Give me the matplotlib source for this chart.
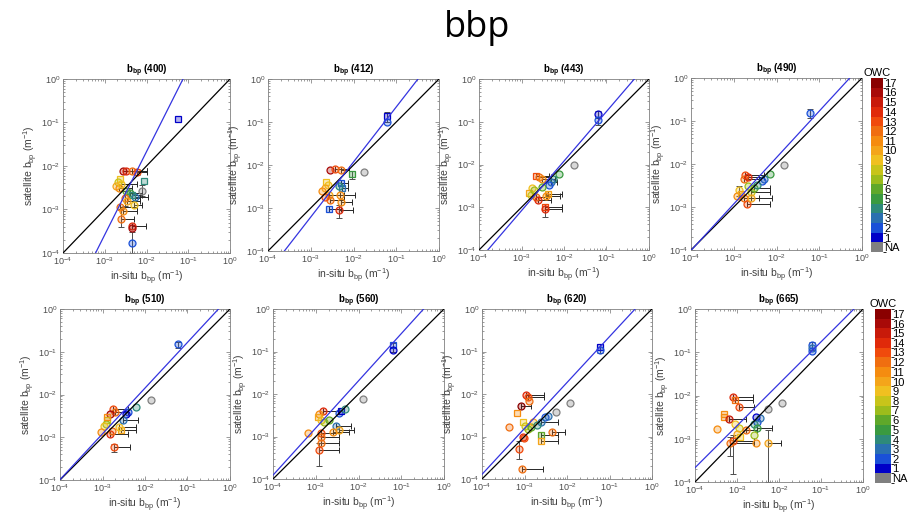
import numpy as np
import matplotlib
matplotlib.use('Agg')
import matplotlib.pyplot as plt
from matplotlib.colors import ListedColormap, BoundaryNorm, to_rgba
from matplotlib.cm import ScalarMappable

plt.rcParams['font.family'] = ['Liberation Sans', 'DejaVu Sans']
plt.rcParams['mathtext.fontset'] = 'custom'
plt.rcParams['mathtext.rm'] = 'Liberation Sans'
plt.rcParams['mathtext.bf'] = 'Liberation Sans:bold'
plt.rcParams['mathtext.default'] = 'regular'

# --- donnees ---
bands = [400, 412, 443, 490, 510, 560, 620, 665]
# droite de regression (log10 y = pente * log10 x + ordonnee)
fit_slope = [1.91, 1.28, 1.16, 1.08, 1.07, 1.11, 1.08, 0.97]
fit_icpt = [2.15, 0.63, 0.40, 0.31, 0.29, 0.53, 0.43, 0.21]

owc_labels = ['NA'] + [str(i) for i in range(1, 18)]
owc_colors = ['#808080', '#0000c8', '#1a50d8', '#2a70b0', '#2e8a7a', '#3a9a40',
              '#5fa82a', '#9cbc1c', '#c8c41a', '#f0c020', '#f4a51a', '#f58c10',
              '#f06e10', '#f04a0c', '#e02a0a', '#c81a0a', '#a80a08', '#8a0000']

# (in-situ, satellite, OWC, x haut, y bas, y haut, type)
pts_400 = [(0.058, 0.12, 1, 0, 0, 0, 's'), (0.0028, 0.0078, 16, 0.010, 0, 0, 'o'),
           (0.0033, 0.0076, 14, 0.010, 0, 0, 'o'), (0.0045, 0.0078, 12, 0.010, 0, 0, 'o'),
           (0.0058, 0.0074, 13, 0.010, 0.0062, 0.0086, 'o'), (0.0087, 0.0046, 4, 0, 0, 0, 's'),
           (0.0023, 0.0050, 9, 0, 0, 0, 's'), (0.0021, 0.0043, 8, 0, 0, 0, 'o'),
           (0.0019, 0.0035, 10, 0, 0, 0, 'o'), (0.0022, 0.0031, 11, 0.0045, 0, 0, 'o'),
           (0.0025, 0.0038, 9, 0.006, 0, 0, 'o'), (0.0033, 0.0027, 6, 0, 0, 0, 'o'),
           (0.0040, 0.0024, 5, 0.008, 0, 0, 'o'), (0.0076, 0.0027, 0, 0, 0.002, 0.0036, 'o'),
           (0.0052, 0.0019, 3, 0.011, 0, 0, 'o'), (0.0045, 0.0021, 4, 0.008, 0, 0, 's'),
           (0.0030, 0.0018, 12, 0.007, 0.0012, 0.0026, 'o'), (0.0023, 0.00115, 12, 0.006, 0, 0, 'o'),
           (0.0027, 0.0009, 11, 0.006, 0, 0, 'o'), (0.0025, 0.00062, 12, 0.005, 0.0004, 0.0010, 'o'),
           (0.0044, 0.00042, 14, 0.0095, 0, 0, 'o'), (0.0044, 0.00037, 16, 0, 0, 0, 'o'),
           (0.0044, 0.00017, 2, 0, 0.0001, 0.0003, 'o'), (0.0035, 0.0016, 10, 0.007, 0, 0, 'o'),
           (0.0050, 0.0013, 9, 0.008, 0, 0, 'o')]
pts_412 = [(0.060, 0.135, 1, 0, 0.10, 0.17, 's'), (0.060, 0.10, 2, 0, 0, 0, 'o'),
           (0.0028, 0.0078, 16, 0, 0, 0, 'o'), (0.0037, 0.0080, 13, 0.008, 0, 0, 'o'),
           (0.0050, 0.0077, 12, 0.008, 0, 0, 'o'), (0.0092, 0.0062, 5, 0, 0.0048, 0.0072, 's'),
           (0.0175, 0.0068, 0, 0, 0, 0, 'o'), (0.0023, 0.0040, 9, 0, 0, 0, 's'),
           (0.0025, 0.0034, 9, 0, 0, 0, 'o'), (0.0021, 0.0029, 10, 0, 0, 0, 'o'),
           (0.0018, 0.0025, 11, 0, 0, 0, 'o'), (0.0052, 0.0038, 2, 0.0075, 0, 0, 's'),
           (0.0055, 0.0029, 3, 0.0075, 0, 0, 's'), (0.0045, 0.0033, 4, 0, 0, 0, 'o'),
           (0.0027, 0.0020, 10, 0.006, 0, 0, 'o'), (0.0048, 0.0020, 11, 0.011, 0, 0, 'o'),
           (0.0028, 0.0015, 12, 0.006, 0, 0, 'o'), (0.0050, 0.0014, 11, 0.009, 0, 0, 'o'),
           (0.0027, 0.00093, 2, 0.005, 0, 0, 's'), (0.0047, 0.00092, 14, 0.0098, 0.00058, 0.0012, 'o'),
           (0.0022, 0.0018, 13, 0, 0, 0, 'o')]
pts_443 = [(0.063, 0.150, 1, 0, 0.12, 0.18, 'o'), (0.063, 0.110, 2, 0, 0.085, 0.13, 'o'),
           (0.017, 0.010, 0, 0, 0, 0, 'o'), (0.0022, 0.0055, 13, 0.0045, 0, 0, 's'),
           (0.0026, 0.0050, 12, 0.005, 0, 0, 'o'), (0.0030, 0.0046, 11, 0.006, 0, 0, 'o'),
           (0.0075, 0.0060, 5, 0, 0, 0, 'o'), (0.0055, 0.0046, 4, 0, 0, 0, 'o'),
           (0.0050, 0.0040, 3, 0.007, 0, 0, 'o'), (0.0045, 0.0033, 2, 0, 0, 0, 'o'),
           (0.0018, 0.0028, 9, 0, 0, 0, 'o'), (0.0015, 0.0022, 10, 0, 0, 0, 's'),
           (0.0017, 0.0019, 8, 0, 0, 0, 'o'), (0.0020, 0.0025, 7, 0, 0, 0, 'o'),
           (0.0022, 0.0017, 12, 0.004, 0, 0, 'o'), (0.0025, 0.0015, 14, 0.005, 0, 0, 'o'),
           (0.0042, 0.0020, 10, 0.009, 0, 0, 's'), (0.0038, 0.0018, 11, 0.008, 0, 0, 'o'),
           (0.0035, 0.0010, 13, 0.009, 0.0006, 0.0012, 's'), (0.0035, 0.0009, 14, 0.009, 0, 0, 'o'),
           (0.0030, 0.0030, 6, 0, 0, 0, 'o')]
pts_490 = [(0.060, 0.150, 2, 0, 0.12, 0.19, 'o'), (0.015, 0.0095, 0, 0, 0, 0, 'o'),
           (0.0018, 0.0055, 13, 0.005, 0, 0, 'o'), (0.0017, 0.0045, 12, 0.004, 0, 0, 'o'),
           (0.0021, 0.0049, 14, 0.005, 0, 0, 'o'), (0.0050, 0.0045, 3, 0, 0, 0, 'o'),
           (0.0045, 0.0040, 2, 0, 0, 0, 'o'), (0.0070, 0.0058, 5, 0, 0, 0, 'o'),
           (0.0013, 0.0025, 9, 0, 0.0018, 0.0031, 'o'), (0.0012, 0.0018, 11, 0, 0, 0, 'o'),
           (0.0015, 0.0020, 10, 0, 0, 0, 's'), (0.0017, 0.0016, 12, 0.004, 0, 0, 'o'),
           (0.0025, 0.0022, 8, 0.007, 0, 0, 'o'), (0.0030, 0.0028, 6, 0.007, 0, 0, 'o'),
           (0.0020, 0.0012, 13, 0.007, 0, 0, 'o'), (0.0025, 0.0016, 10, 0.008, 0, 0, 'o'),
           (0.0022, 0.0030, 7, 0, 0, 0, 'o'), (0.0035, 0.0033, 4, 0, 0, 0, 'o')]
pts_510 = [(0.060, 0.150, 2, 0, 0.12, 0.17, 'o'), (0.014, 0.0075, 0, 0, 0, 0, 'o'),
           (0.0018, 0.0046, 13, 0.004, 0, 0, 'o'), (0.0020, 0.0040, 12, 0.004, 0, 0, 'o'),
           (0.0060, 0.0050, 4, 0, 0, 0, 'o'), (0.0040, 0.0040, 2, 0, 0, 0, 'o'),
           (0.0035, 0.0035, 1, 0, 0, 0, 'o'), (0.0015, 0.0035, 16, 0, 0, 0, 'o'),
           (0.0013, 0.0025, 8, 0, 0, 0, 's'), (0.0012, 0.0020, 7, 0, 0, 0, 'o'),
           (0.0011, 0.0018, 9, 0, 0, 0, 'o'), (0.0013, 0.0030, 11, 0, 0, 0, 's'),
           (0.0009, 0.00135, 11, 0, 0, 0, 'o'), (0.0027, 0.0015, 10, 0.006, 0, 0, 's'),
           (0.0025, 0.0017, 9, 0.006, 0, 0, 'o'), (0.0015, 0.0012, 14, 0.004, 0, 0, 'o'),
           (0.0019, 0.00058, 13, 0.0045, 0.00045, 0.0007, 'o'), (0.0030, 0.0026, 3, 0.007, 0, 0, 'o'),
           (0.0017, 0.0014, 12, 0, 0, 0, 'o')]
pts_560 = [(0.065, 0.140, 2, 0, 0.10, 0.16, 's'), (0.065, 0.110, 1, 0, 0, 0, 'o'),
           (0.013, 0.0078, 0, 0, 0, 0, 'o'), (0.0015, 0.0040, 14, 0.0035, 0, 0, 'o'),
           (0.0035, 0.0035, 2, 0, 0, 0, 'o'), (0.0038, 0.0040, 1, 0, 0, 0, 's'),
           (0.0048, 0.0045, 4, 0, 0, 0, 'o'), (0.0012, 0.0033, 11, 0, 0, 0, 'o'),
           (0.0011, 0.0028, 10, 0, 0, 0, 's'), (0.0013, 0.0025, 9, 0, 0, 0, 'o'),
           (0.0016, 0.0022, 7, 0, 0, 0, 'o'), (0.00065, 0.0012, 11, 0, 0, 0, 'o'),
           (0.0030, 0.0018, 3, 0.0065, 0, 0, 'o'), (0.0035, 0.0014, 10, 0.008, 0, 0, 'o'),
           (0.0013, 0.0012, 13, 0.0035, 0, 0, 'o'), (0.0013, 0.0010, 12, 0.0035, 0, 0, 'o'),
           (0.0013, 0.0007, 12, 0.0035, 0, 0, 'o'), (0.0012, 0.00048, 13, 0.0035, 0.0002, 0.0007, 'o'),
           (0.0020, 0.0024, 6, 0, 0, 0, 'o'), (0.0025, 0.0013, 11, 0.006, 0, 0, 'o')]
pts_620 = [(0.060, 0.130, 1, 0, 0.09, 0.15, 's'), (0.060, 0.110, 2, 0, 0, 0, 'o'),
           (0.0115, 0.0060, 0, 0, 0, 0, 'o'), (0.0056, 0.0037, 0, 0, 0, 0, 'o'),
           (0.0011, 0.0095, 14, 0.0029, 0, 0, 'o'), (0.0012, 0.0085, 13, 0.0029, 0, 0, 'o'),
           (0.0013, 0.0070, 12, 0, 0, 0, 'o'), (0.00083, 0.0051, 17, 0.0014, 0, 0, 'o'),
           (0.00068, 0.0035, 11, 0, 0, 0, 's'), (0.00043, 0.0017, 12, 0, 0, 0, 'o'),
           (0.0009, 0.0022, 9, 0, 0, 0, 's'), (0.0010, 0.0018, 8, 0, 0, 0, 'o'),
           (0.0012, 0.0015, 7, 0, 0, 0, 'o'), (0.0014, 0.0017, 6, 0, 0, 0, 'o'),
           (0.0016, 0.0022, 10, 0, 0, 0, 'o'), (0.0030, 0.0028, 2, 0, 0, 0, 'o'),
           (0.0036, 0.0030, 3, 0, 0, 0, 'o'), (0.0025, 0.0022, 3, 0.006, 0, 0, 'o'),
           (0.0020, 0.0019, 4, 0, 0, 0, 'o'), (0.0044, 0.0013, 12, 0.009, 0, 0, 'o'),
           (0.0025, 0.0011, 6, 0.006, 0, 0, 's'), (0.0025, 0.0008, 10, 0.006, 0, 0, 's'),
           (0.0009, 0.0010, 14, 0, 0, 0, 'o'), (0.00095, 0.0009, 13, 0, 0, 0, 'o'),
           (0.00076, 0.0005, 13, 0, 0.0003, 0.0008, 'o'), (0.00087, 0.00017, 12, 0.0027, 0, 0, 'o')]
pts_665 = [(0.062, 0.150, 2, 0, 0.11, 0.17, 'o'), (0.062, 0.125, 3, 0, 0, 0, 'o'),
           (0.062, 0.105, 2, 0, 0, 0, 'o'), (0.012, 0.0068, 0, 0, 0, 0, 'o'),
           (0.0056, 0.0048, 0, 0, 0, 0, 'o'), (0.0008, 0.0093, 14, 0.0024, 0, 0, 'o'),
           (0.0009, 0.0080, 12, 0.0024, 0, 0, 's'), (0.0011, 0.0055, 13, 0.0025, 0, 0, 'o'),
           (0.00048, 0.0038, 11, 0, 0, 0, 's'), (0.00048, 0.0032, 11, 0, 0, 0, 's'),
           (0.00065, 0.0029, 15, 0.0016, 0, 0, 'o'), (0.00033, 0.0017, 11, 0, 0, 0, 'o'),
           (0.0009, 0.0022, 9, 0, 0, 0, 'o'), (0.0011, 0.0018, 8, 0, 0, 0, 'o'),
           (0.0010, 0.0013, 10, 0, 0, 0, 'o'), (0.0012, 0.0011, 9, 0, 0, 0, 's'),
           (0.0030, 0.0025, 2, 0, 0, 0, 'o'), (0.0028, 0.0032, 1, 0, 0, 0, 'o'),
           (0.0035, 0.0030, 3, 0, 0, 0, 'o'), (0.0025, 0.0022, 4, 0, 0, 0, 'o'),
           (0.0030, 0.0018, 5, 0.007, 0, 0, 'o'), (0.0025, 0.0012, 7, 0, 0, 0, 'o'),
           (0.0008, 0.0009, 13, 0.0025, 0.00015, 0.0012, 'o'), (0.0007, 0.0008, 12, 0.0025, 0.0004, 0.0011, 'o'),
           (0.0054, 0.0008, 10, 0.011, 0.0001, 0.0016, 'o'), (0.0029, 0.0008, 11, 0, 0, 0, 'o'),
           (0.0016, 0.0016, 12, 0.003, 0, 0, 'o')]
all_pts = [pts_400, pts_412, pts_443, pts_490, pts_510, pts_560, pts_620, pts_665]

# positions des axes en pixels (gauche, droite, haut, bas)
W, H = 914, 517
boxes = [(63, 230, 79, 253), (268, 439, 79, 251), (479, 649, 79, 250), (691, 862, 78, 250),
         (60, 230, 309, 480), (273, 444, 309, 479), (482, 652, 309, 479), (695, 863, 309, 482)]
cbar_boxes = [(871, 883, 78, 252), (875, 891, 309, 483)]

fig = plt.figure(figsize=(W / 100, H / 100), dpi=100)
fig.text(0.522, 0.945, 'bbp', ha='center', va='center', fontsize=26, family='Open Sans')

lims = [1e-4, 1e0]
xx = np.array(lims)
for k, band in enumerate(bands):
    l, r, t, b = boxes[k]
    ax = fig.add_axes([l / W, 1 - b / H, (r - l) / W, (b - t) / H])
    ax.set_xscale('log'); ax.set_yscale('log')
    for (x, y, c, xhi, ylo, yhi, m) in all_pts[k]:
        col = owc_colors[c]
        if xhi > 0:
            ax.errorbar([x], [y], xerr=[[0], [xhi - x]], fmt='none', ecolor='0.15',
                        elinewidth=0.7, capsize=2, capthick=0.7, zorder=2)
        if ylo > 0:
            ax.errorbar([x], [y], yerr=[[y - ylo], [yhi - y]], fmt='none', ecolor='0.3',
                        elinewidth=0.7, capsize=2, capthick=0.7, zorder=2)
        ax.plot([x], [y], marker=m, ms=5, mec=col, mfc=to_rgba(col, 0.3), mew=0.9,
                ls='none', zorder=3)
    ax.plot(xx, xx, color='k', lw=0.9, zorder=4)
    ax.plot(xx, 10 ** (fit_slope[k] * np.log10(xx) + fit_icpt[k]), color='#3434e0', lw=0.9, zorder=4)
    ax.set_xlim(lims); ax.set_ylim(lims)
    ax.set_xticks([1e-4, 1e-3, 1e-2, 1e-1, 1e0])
    ax.set_yticks([1e-4, 1e-3, 1e-2, 1e-1, 1e0])
    ax.tick_params(which='both', direction='in', top=True, right=True, colors='0.45',
                   labelcolor='0.3', labelsize=6.5, width=0.5, pad=2)
    ax.tick_params(which='major', length=3)
    ax.tick_params(which='minor', length=1.5)
    for s in ax.spines.values():
        s.set_color('0.5'); s.set_linewidth(0.6)
    ax.set_title(r'$\mathbf{b_{bp}}$ (%d)' % band, fontsize=7, fontweight='bold', pad=3)
    ax.set_xlabel(r'in-situ b$_{bp}$ (m$^{-1}$)', fontsize=7.5, color='0.25', labelpad=1)
    ax.set_ylabel(r'satellite b$_{bp}$ (m$^{-1}$)', fontsize=7.5, color='0.25', labelpad=1)

cmap = ListedColormap(owc_colors)
norm = BoundaryNorm(np.arange(-0.5, 18.5, 1), cmap.N)
for (l, r, t, b) in cbar_boxes:
    cax = fig.add_axes([l / W, 1 - b / H, (r - l) / W, (b - t) / H])
    cb = fig.colorbar(ScalarMappable(norm=norm, cmap=cmap), cax=cax, ticks=np.arange(18))
    cb.set_ticklabels(owc_labels)
    cb.outline.set_visible(False)
    cax.tick_params(length=0, labelsize=8, pad=1)
    cax.set_title('OWC', fontsize=8, pad=1)

fig.savefig('out.png', dpi=100)
